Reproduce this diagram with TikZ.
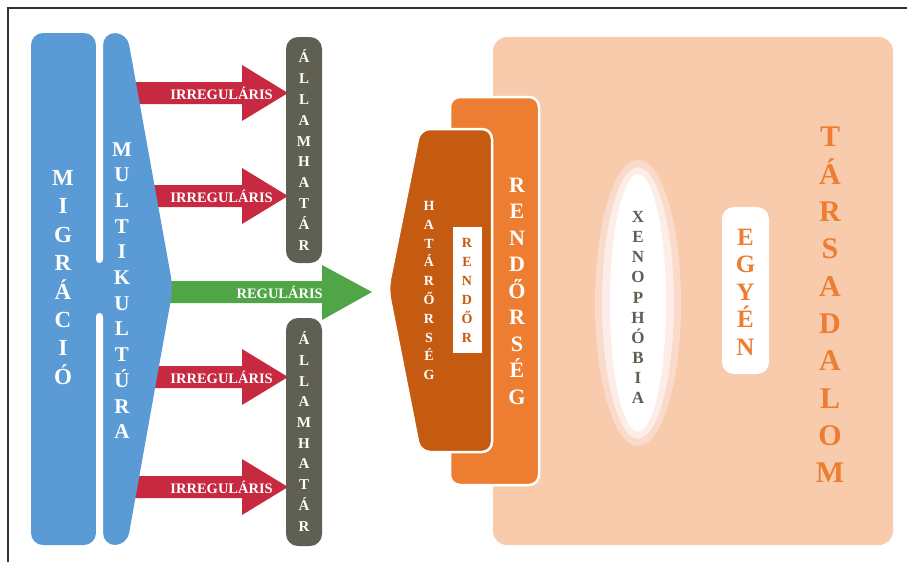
\documentclass[tikz,border=0pt]{standalone}
\usepackage{fontspec}
\setmainfont{Liberation Serif}
\definecolor{cblue}{HTML}{5B9BD5}
\definecolor{cred}{HTML}{C72A40}
\definecolor{cgreen}{HTML}{50A647}
\definecolor{cgray}{HTML}{5F5F52}
\definecolor{cpeach}{HTML}{F8CBAD}
\definecolor{corange}{HTML}{ED7D31}
\definecolor{cdark}{HTML}{C55A11}
\definecolor{chalo}{HTML}{FADACA}
\definecolor{chalob}{HTML}{FCEEE6}
\definecolor{cframe}{HTML}{333333}
\begin{document}
\begin{tikzpicture}[x=1pt,y=-1pt]
\tikzset{
  vt/.style 2 args={font=\bfseries\fontsize{#1}{#2}\selectfont, align=center, inner sep=0pt},
  arrowlabel/.style={font=\bfseries\fontsize{14.5}{16}\selectfont, text=white, inner sep=0pt, anchor=east},
  redarrow/.style={fill=cred},
}
\useasboundingbox (0,0) rectangle (907,562);
% frame
\draw[cframe, line width=1.2pt] (8,562) coordinate (fbl) -- (8,8) coordinate (ftl) -- (907,8) coordinate (ftr);

% red arrows
\foreach \yc in {93,196,377,487}{
  \fill[redarrow] (125,\yc-11) -- (242,\yc-11) -- (242,\yc-28) -- (288,\yc) -- (242,\yc+28) -- (242,\yc+11) -- (125,\yc+11) -- cycle;
}
% green arrow
\fill[cgreen] (160,281) -- (322,281) -- (322,265) -- (372,292) -- (322,320) -- (322,303) -- (160,303) -- cycle;

% blue shapes
\fill[cblue, rounded corners=12] (31,33) rectangle (96,545);
\fill[cblue, rounded corners=12] (103,545) -- (103,33) -- (127,33) -- (173,288) -- (127,545) -- cycle;
\fill[cblue] (94,250) rectangle (105,325);
\fill[white, rounded corners=3.5] (96,20) rectangle (103,263);
\fill[white, rounded corners=3.5] (96,313) rectangle (103,560);

% grey bars
\fill[cgray, rounded corners=12] (286,37) rectangle (322,263);
\fill[cgray, rounded corners=12] (286,318) rectangle (322,546);

% society
\fill[cpeach, rounded corners=14] (493,37) rectangle (893,545);
% police
\filldraw[fill=corange, draw=white, line width=2.5pt, rounded corners=10] (450,97) rectangle (539,485);
% border guard
\filldraw[fill=cdark, draw=white, line width=2.5pt, rounded corners=10] (492,129) -- (492,452) -- (420,452) -- (388,289) -- (420,129) -- cycle;
\fill[white] (453,227) rectangle (482,353);

% xenophobia
\fill[chalo] (638,303) ellipse [x radius=43, y radius=143];
\fill[chalob] (638,303) ellipse [x radius=36, y radius=135.5];
\fill[white] (638,303) ellipse [x radius=28, y radius=128.5];
% egyen
\fill[white, rounded corners=12] (722,207) rectangle (769,374);

% texts
\node[vt={23}{28.4}, text=white] (migr) at (63,277.5) {M\\I\\G\\R\\Á\\C\\I\\Ó};
\node[vt={21}{25.7}, text=white] (multi) at (122,290.5) {M\\U\\L\\T\\I\\K\\U\\L\\T\\Ú\\R\\A};
\node[vt={15}{20.8}, text=white] (allam1) at (304,150) {Á\\L\\L\\A\\M\\H\\A\\T\\Á\\R};
\node[vt={15}{20.7}, text=white] (allam2) at (304,431.5) {Á\\L\\L\\A\\M\\H\\A\\T\\Á\\R};
\node[arrowlabel] (ir1) at (273,93) {IRREGULÁRIS};
\node[arrowlabel] (ir2) at (273,196) {IRREGULÁRIS};
\node[arrowlabel] (ir3) at (273,377) {IRREGULÁRIS};
\node[arrowlabel] (ir4) at (273,487) {IRREGULÁRIS};
\node[arrowlabel] (reg) at (323,292) {REGULÁRIS};
\node[vt={14}{18.8}, text=white] (hatar) at (429,290.5) {H\\A\\T\\Á\\R\\Ő\\R\\S\\É\\G};
\node[vt={14}{19}, text=cdark] (rendor) at (467,290.5) {R\\E\\N\\D\\Ő\\R};
\node[vt={22}{26.5}, text=white] (rendorseg) at (517,291) {R\\E\\N\\D\\Ő\\R\\S\\É\\G};
\node[vt={17}{20.1}, text=cgray] (xeno) at (638,307.5) {X\\E\\N\\O\\P\\H\\Ó\\B\\I\\A};
\node[vt={25}{27.5}, text=corange] (egyen) at (745.5,292) {E\\G\\Y\\É\\N};
\node[vt={30}{37.3}, text=corange] (tars) at (830,305) {T\\Á\\R\\S\\A\\D\\A\\L\\O\\M};
\end{tikzpicture}
\end{document}
